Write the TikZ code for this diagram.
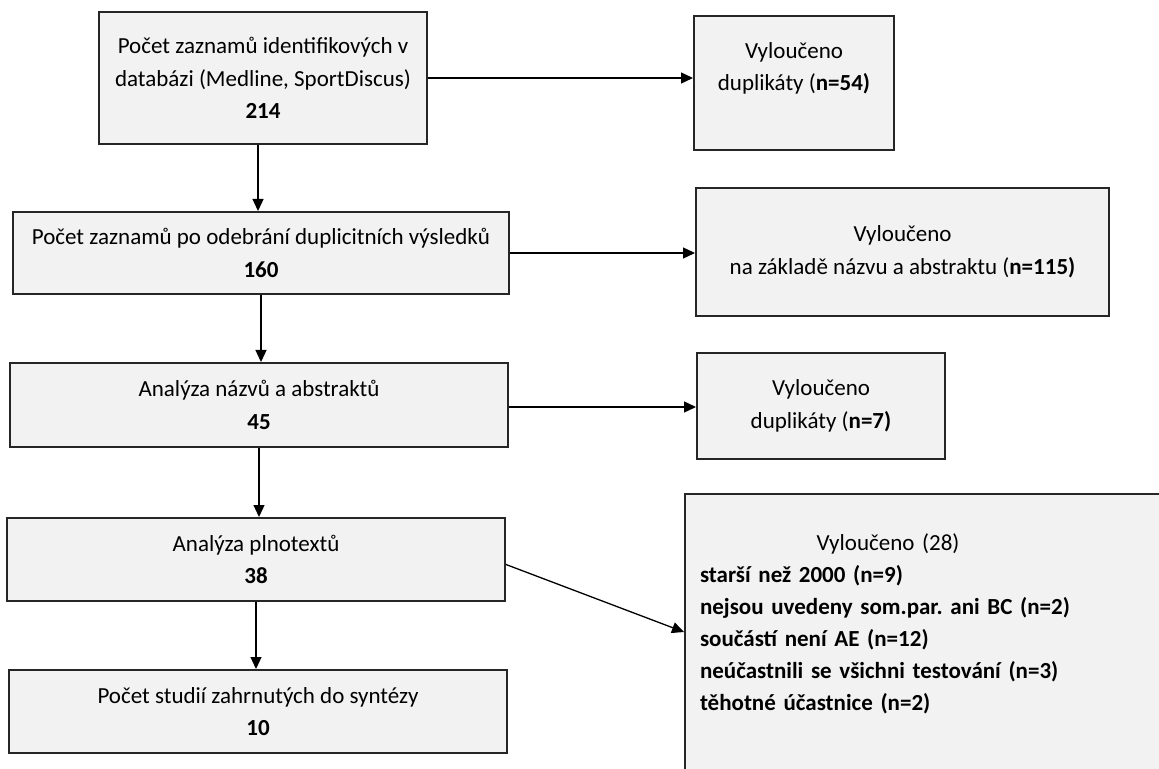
\documentclass[tikz,border=0pt]{standalone}
\usepackage{fontspec}
\setmainfont{Carlito}
\usetikzlibrary{arrows.meta}
\definecolor{boxgray}{HTML}{F2F2F2}
\definecolor{boxline}{HTML}{262626}
\frenchspacing

\begin{document}
\begin{tikzpicture}[x=0.5pt,y=-0.5pt,
    box/.style={draw=boxline, line width=1pt, fill=boxgray, align=center,
        inner sep=0pt, font=\fontsize{11.5}{16.25}\selectfont},
    arr/.style={-{Triangle[length=6pt,width=5.5pt]}, line width=0.65pt}]
    \path[use as bounding box, clip] (0,0) rectangle (1159,769);
    % main column
    \node[box, minimum width=164pt, minimum height=66pt] (src) at (263,78)
        {Počet zaznamů identifikových v\\databázi (Medline, SportDiscus)\\\textbf{214}};
    \node[box, minimum width=248pt, minimum height=41pt] (rec) at (261,253)
        {Počet zaznamů po odebrání duplicitních výsledků\\\textbf{160}};
    \node[box, minimum width=249pt, minimum height=42pt] (titl) at (259,405)
        {Analýza názvů a abstraktů\\\textbf{45}};
    \node[box, minimum width=249pt, minimum height=41.5pt] (full) at (256,559.5)
        {Analýza plnotextů\\\textbf{38}};
    \node[box, minimum width=249pt, minimum height=41.5pt] (incl) at (258,711.5)
        {Počet studií zahrnutých do syntézy\\\textbf{10}};
    % excluded
    \node[box, minimum width=100pt, minimum height=67pt] (dupa) at (794,83)
        {Vyloučeno\\duplikáty (\textbf{n=54)}\\\mbox{}};
    \node[box, minimum width=206.5pt, minimum height=64pt] (dupb) at (902.5,252)
        {Vyloučeno\\na základě názvu a abstraktu (\textbf{n=115)}};
    \node[box, minimum width=124pt, minimum height=53pt] (dupc) at (821,406)
        {Vyloučeno\\duplikáty (\textbf{n=7)}};
    \node[box, anchor=north west, text width=250pt, align=left, inner xsep=7.5pt,
        inner ysep=20pt, text depth=150pt, font=\fontsize{11.5}{16}\selectfont] (big) at (684,493)
        {\makebox[188pt]{Vyloučeno (28)}\\
        \textbf{starší než 2000 (n=9)}\\
        \textbf{nejsou uvedeny som.par. ani BC (n=2)}\\
        \textbf{součástí není AE (n=12)}\\
        \textbf{neúčastnili se všichni testování (n=3)}\\
        \textbf{těhotné účastnice (n=2)}};
    \coordinate (bigin) at (684,632);
    % arrows
    \draw[arr] (src.east) -- (src.east -| dupa.west);
    \draw[arr] ([xshift=-2.5pt]src.south) -- ([xshift=-2.5pt]src.south |- rec.north);
    \draw[arr] (rec.east) -- (rec.east -| dupb.west);
    \draw[arr] (rec.south) -- (rec.south |- titl.north);
    \draw[arr] ([yshift=-1pt]titl.east) -- ([yshift=-1pt]titl.east -| dupc.west);
    \draw[arr] (titl.south) -- (titl.south |- full.north);
    \draw[arr] ([yshift=-2.5pt]full.east) -- (bigin);
    \draw[arr] (full.south) -- (full.south |- incl.north);
\end{tikzpicture}
\end{document}
